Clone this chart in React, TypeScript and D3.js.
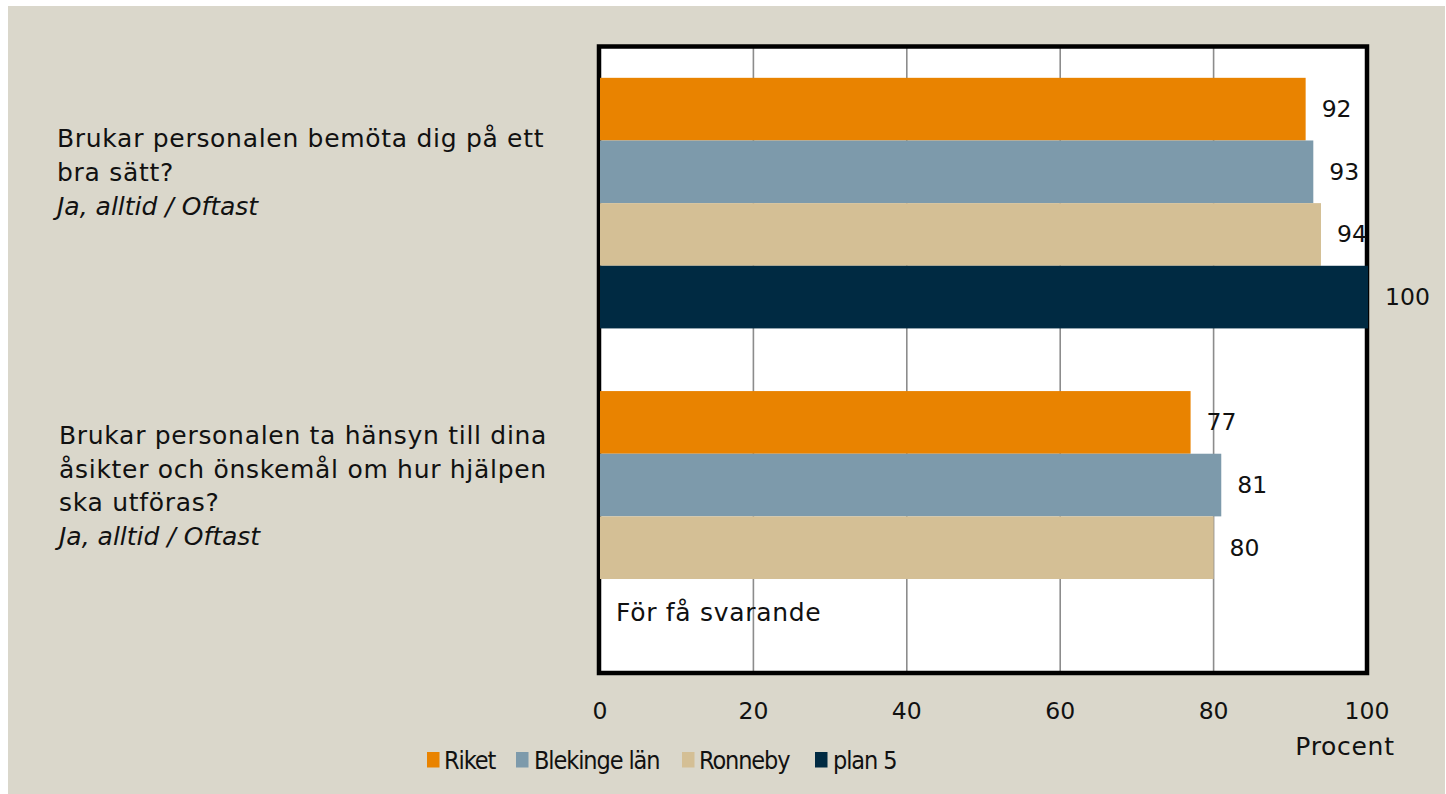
import React from "react";
import * as d3 from "d3";

const categories = [
  ["Brukar personalen bemöta dig på ett", "bra sätt?"],
  ["Brukar personalen ta hänsyn till dina", "åsikter och önskemål om hur hjälpen", "ska utföras?"],
];
const subtitle = "Ja, alltid / Oftast";
const seriesNames = ["Riket", "Blekinge län", "Ronneby", "plan 5"];
const seriesColors = ["#E98300", "#7D9AAB", "#D4BF95", "#002A42"];
const riket = [92, 77];
const blekinge = [93, 81];
const ronneby = [94, 80];
const plan5: (number | null)[] = [100, null];
const xTicks = [0, 20, 40, 60, 80, 100];
const noDataText = "För få svarande";
const xTitle = "Procent";

const FONT = "'DejaVu Sans', sans-serif";

export default function App() {
  const W = 1446, H = 794;
  const left = 600, right = 1367, top = 46.5, bottom = 673;
  const x = d3.scaleLinear().domain([0, 100]).range([left, right]);
  const y0 = d3.scaleBand<number>().domain([0, 1]).range([top, bottom]).paddingInner(0).paddingOuter(0);
  const y1 = d3.scaleBand<number>().domain([0, 1, 2, 3]).range([0, y0.bandwidth()]).paddingInner(0).paddingOuter(0.5);
  const series = [riket, blekinge, ronneby, plan5];
  const fs = 25;
  const nfs = 23.5;
  const ls = 0.7;
  const lh = 33.7;

  const legendItems = [
    { sq: 427, tx: 444 },
    { sq: 516, tx: 534 },
    { sq: 682, tx: 699 },
    { sq: 815, tx: 833 },
  ];

  return (
    <svg width={W} height={H} style={{ position: "absolute", left: 0, top: 0 }} fontFamily={FONT}>
      <rect x={8} y={6} width={1437} height={788} fill="#DAD7CB" />
      <rect x={left} y={top} width={right - left} height={bottom - top} fill="#FFFFFF" />
      {xTicks.slice(1, -1).map((t) => (
        <line key={t} x1={x(t)} x2={x(t)} y1={top} y2={bottom} stroke="#8C8C8C" strokeWidth={1.6} />
      ))}
      <rect x={left - 1} y={top} width={right - left + 1} height={bottom - top} fill="none" stroke="#000" strokeWidth={4.5} />
      {categories.map((_, ci) =>
        series.map((s, si) => {
          const v = s[ci];
          if (v == null) return null;
          const yy = (y0(ci) as number) + (y1(si) as number);
          return (
            <g key={`${ci}-${si}`}>
              <rect x={x(0)} y={yy} width={x(v) - x(0) + (v === 100 ? 1 : 0)} height={y1.bandwidth()} fill={seriesColors[si]} />
              <text x={x(v) + (v === 100 ? 18 : 16)} y={yy + y1.bandwidth() / 2} dominantBaseline="central" fontSize={nfs} fill="#111">
                {v}
              </text>
            </g>
          );
        })
      )}
      {categories.map((_, ci) =>
        series.map((s, si) => {
          if (s[ci] != null) return null;
          const yy = (y0(ci) as number) + (y1(si) as number);
          return (
            <text key={`nd-${ci}-${si}`} x={616} y={yy + y1.bandwidth() / 2 + 2} dominantBaseline="central" fontSize={fs} letterSpacing={ls} fill="#111">
              {noDataText}
            </text>
          );
        })
      )}
      {categories.map((lines, ci) => {
        const all = [...lines, subtitle];
        const n = all.length;
        const center = (y0(ci) as number) + y0.bandwidth() / 2;
        const first = center - 23 - ((n - 1) * lh) / 2 + 1;
        return (
          <text key={`c${ci}`} fontSize={fs} fill="#111">
            {all.map((l, li) => (
              <tspan
                key={li}
                x={ci === 0 ? 57 : 59}
                y={first + li * lh}
                fontStyle={li === n - 1 ? "italic" : "normal"}
                letterSpacing={li === n - 1 ? 0 : ls}
              >
                {l}
              </tspan>
            ))}
          </text>
        );
      })}
      {xTicks.map((t) => (
        <text key={`t${t}`} x={x(t)} y={719} textAnchor="middle" fontSize={nfs} fill="#111">
          {t}
        </text>
      ))}
      <text x={1345} y={755} textAnchor="middle" fontSize={fs} letterSpacing={ls} fill="#111">
        {xTitle}
      </text>
      {seriesNames.map((n, i) => (
        <g key={n}>
          <rect x={legendItems[i].sq} y={752} width={12.5} height={15.5} fill={seriesColors[i]} />
          <text
            x={legendItems[i].tx}
            y={768.5}
            fontSize={fs}
            letterSpacing={-1.1}
            fontFamily="'DejaVu Sans Condensed', 'DejaVu Sans', sans-serif"
            fontStretch="condensed"
            fill="#111"
          >
            {n}
          </text>
        </g>
      ))}
    </svg>
  );
}
